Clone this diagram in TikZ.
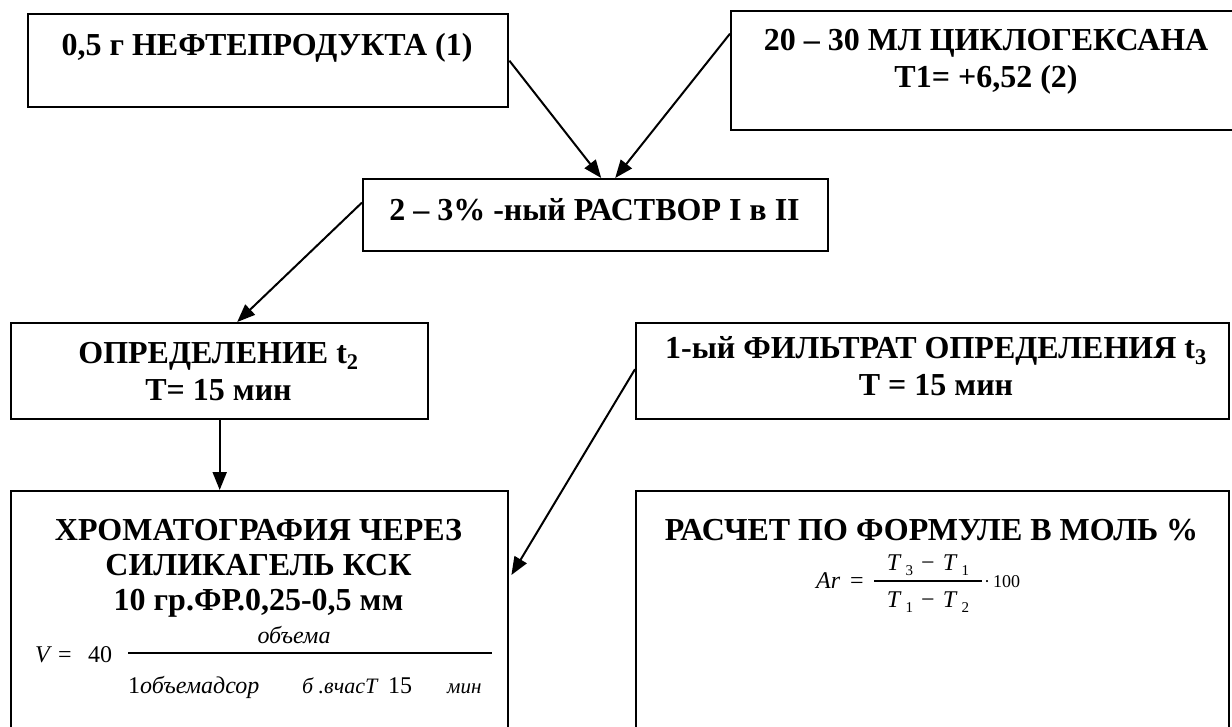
\documentclass[tikz,border=0pt]{standalone}
\usepackage{fontspec}
\setmainfont{Liberation Serif}
\usetikzlibrary{arrows.meta,calc}
\newcommand\lowsub[1]{\raisebox{-5pt}{\fontsize{15}{15}\selectfont #1}}
\tikzset{
  frame/.style={draw, line width=2.4pt, rectangle, inner sep=0pt, anchor=north west},
  ttl/.style={font=\bfseries\fontsize{32}{37}\selectfont, inner sep=0pt, anchor=base},
  fm/.style={font=\fontsize{24}{28}\selectfont, inner sep=0pt},
  fmsmall/.style={font=\fontsize{18}{22}\selectfont, inner sep=0pt},
  flow/.style={line width=2pt, -{Triangle[length=18pt,width=14pt]}},
  fbar/.style={line width=1.2pt},
}
\begin{document}
\begin{tikzpicture}[x=1pt,y=-1pt]
\useasboundingbox (0,0) rectangle (1232,726);
\fill[white] (0,0) rectangle (1232,726);
\clip (0,0) rectangle (1232,726);

% boxes
\node[frame, minimum width=480pt, minimum height=93pt]  (b1) at (27,13)  {};
\node[frame, minimum width=512pt, minimum height=119pt] (b2) at (730,10) {};
\node[frame, minimum width=465pt, minimum height=72pt]  (b3) at (362,178) {};
\node[frame, minimum width=417pt, minimum height=96pt]  (b4) at (10,322) {};
\node[frame, minimum width=593pt, minimum height=96pt]  (b5) at (635,322) {};
\node[frame, minimum width=497pt, minimum height=280pt] (b6) at (10,490) {};
\node[frame, minimum width=593pt, minimum height=280pt] (b7) at (635,490) {};

% titles
\node[ttl] (b1t) at (267,55) {0,5 г НЕФТЕПРОДУКТА (1)};
\node[ttl] (b2t1) at (986,50) {20 – 30 МЛ ЦИКЛОГЕКСАНА};
\node[ttl] (b2t2) at (986,87) {Т1= +6,52 (2)};
\node[ttl] (b3t) at (594.5,220) {2 – 3\% -ный РАСТВОР I в II};
\node[ttl] (b4t1) at (218.5,363) {ОПРЕДЕЛЕНИЕ t\textsubscript{2}};
\node[ttl] (b4t2) at (218.5,400) {Т= 15 мин};
\node[ttl] (b5t1) at (936,358) {1-ый ФИЛЬТРАТ ОПРЕДЕЛЕНИЯ t\textsubscript{3}};
\node[ttl] (b5t2) at (936,395) {Т = 15 мин};
\node[ttl] (b6t1) at (258.5,540) {ХРОМАТОГРАФИЯ ЧЕРЕЗ};
\node[ttl] (b6t2) at (258.5,575) {СИЛИКАГЕЛЬ КСК};
\node[ttl] (b6t3) at (258.5,610) {10 гр.ФР.0,25-0,5 мм};
\node[ttl] (b7t) at (931.5,540) {РАСЧЕТ ПО ФОРМУЛЕ В МОЛЬ \%};

% column volume formula
\node[fm, anchor=base west] (vl) at (35,662) {\itshape V};
\node[fm, anchor=base] (veq) at (65,662) {=};
\node[fm, anchor=base west] (v40) at (88,662) {40};
\node[fm, anchor=base] (vnum) at (294,643) {\itshape объема};
\draw[fbar] (128,653) -- (492,653);
\node[fm, anchor=base west] (vden) at (128,693)
  {\makebox[174pt][l]{1\textit{объемадсор}}\makebox[86pt][l]{{\fontsize{22}{26}\selectfont\textit{б .вчасT}}}\makebox[59pt][l]{15}{\fontsize{21}{24}\selectfont\textit{мин}}};

% aromatics formula
\node[fm, anchor=base west] (ar) at (816,588) {\itshape Ar};
\node[fm, anchor=base] (areq) at (857,588) {=};
\node[fm, anchor=base] (arnum) at (928,570) {\textit{T}\,\lowsub{3}\hspace{8pt}−\hspace{8pt}\textit{T}\,\lowsub{1}};
\draw[fbar] (874,581) -- (982,581);
\node[fm, anchor=base] (arden) at (928,607) {\textit{T}\,\lowsub{1}\hspace{8pt}−\hspace{8pt}\textit{T}\,\lowsub{2}};
\node[fmsmall, anchor=base west] (arh) at (984,587) {·\,100};

% flow arrows
\draw[flow] (b1.east) -- ($(b3.north)+(5.5,0)$);
\draw[flow] ($(b2.north west)!0.195!(b2.south west)$) -- ($(b3.north)+(19.5,0)$);
\draw[flow] ($(b3.north west)!0.33!(b3.south west)$) -- ($(b4.north)+(17.5,0)$);
\draw[flow] (b4.south) -- (b4.south |- b6.north);
\draw[flow] ($(b5.north west)!0.48!(b5.south west)$) -- ($(b6.north east)+(2,85)$);
\end{tikzpicture}
\end{document}
